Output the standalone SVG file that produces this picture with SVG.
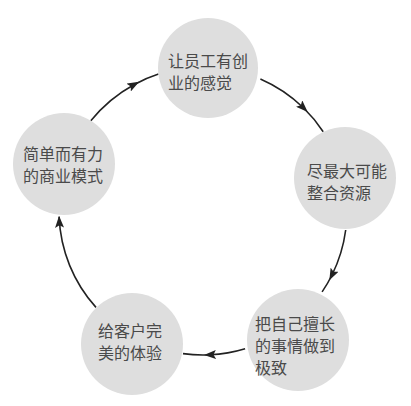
<svg xmlns="http://www.w3.org/2000/svg" width="411" height="406" viewBox="0 0 411 406">
<defs>
<style>
.node circle{fill:#dedede;stroke:none}
.node text{font-family:"Noto Sans CJK SC","Noto Sans",sans-serif;font-size:16px;fill:#4a4a4a}
.arc{fill:none;stroke:#222;stroke-width:1.6}
</style>
<marker id="ah" markerUnits="userSpaceOnUse" viewBox="0 0 12 9" markerWidth="12" markerHeight="9" refX="6" refY="4.5" orient="auto">
<path d="M0,0 L12,4.5 L0,9 L2.5,4.5 z" fill="#222"/>
</marker>
<marker id="ahEnd" markerUnits="userSpaceOnUse" viewBox="0 0 12 9" markerWidth="12" markerHeight="9" refX="11" refY="4.5" orient="auto">
<path d="M0,0 L12,4.5 L0,9 L2.5,4.5 z" fill="#222"/>
</marker>
</defs>
<rect width="411" height="406" fill="#fff"/>
<g id="connectors">
<path class="arc" marker-mid="url(#ah)" d="M260.4,78.9 A144,144 0 0 1 303.4,107.7 A144,144 0 0 1 323.2,131.7"/>
<path class="arc" marker-mid="url(#ah)" d="M345.7,230 A144,144 0 0 1 332,275 A144,144 0 0 1 322.1,291.9"/>
<path class="arc" marker-mid="url(#ah)" d="M245.1,348.7 A144,144 0 0 1 210,354.8 A144,144 0 0 1 183,353.6"/>
<path class="arc" marker-end="url(#ahEnd)" d="M96,307.4 A144,144 0 0 1 59.1,216.8"/>
<path class="arc" marker-mid="url(#ah)" d="M90.8,120.8 A144,144 0 0 1 133.9,84.7 A144,144 0 0 1 158.5,74.1"/>
</g>
<g id="node-top" class="node">
<circle cx="208" cy="68" r="50"/>
<text x="168" y="67">让员工有创</text>
<text x="168" y="89">业的感觉</text>
</g>
<g id="node-right" class="node">
<circle cx="345" cy="178" r="51"/>
<text x="307" y="177">尽最大可能</text>
<text x="307" y="199">整合资源</text>
</g>
<g id="node-bottom-right" class="node">
<circle cx="298" cy="340" r="51"/>
<text x="255" y="330">把自己擅长</text>
<text x="255" y="352">的事情做到</text>
<text x="255" y="374">极致</text>
</g>
<g id="node-bottom-left" class="node">
<circle cx="132" cy="344" r="51"/>
<text x="98" y="337">给客户完</text>
<text x="98" y="359">美的体验</text>
</g>
<g id="node-left" class="node">
<circle cx="64" cy="164" r="51"/>
<text x="23" y="160">简单而有力</text>
<text x="23" y="182">的商业模式</text>
</g>
</svg>
